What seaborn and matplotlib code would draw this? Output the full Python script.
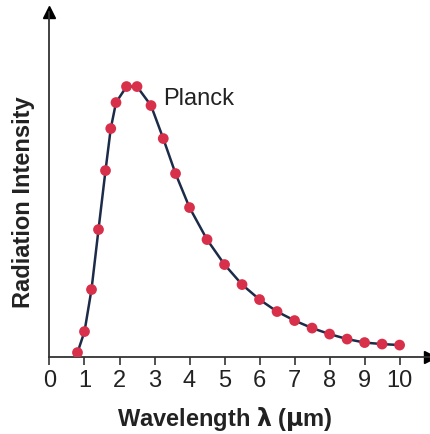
import matplotlib
matplotlib.use("Agg")
import matplotlib.pyplot as plt
import seaborn as sns
import pandas as pd

# wavelength (um) and relative radiation intensity
wavelength = [0.8, 1.0, 1.2, 1.4, 1.6, 1.75, 1.9, 2.2, 2.5, 2.9, 3.25, 3.6, 4.0,
              4.5, 5.0, 5.5, 6.0, 6.5, 7.0, 7.5, 8.0, 8.5, 9.0, 9.5, 10.0]
intensity = [4, 25, 67, 127, 186, 228, 254, 270, 270, 251, 218, 183, 149,
             117, 92, 72, 57, 45, 36, 28.5, 22.5, 17.5, 14, 12.5, 11.5]
xticks = list(range(0, 11))

df = pd.DataFrame({"Wavelength": wavelength, "Intensity": intensity})

sns.set_style("white")
plt.rcParams['font.family'] = ['Liberation Sans', 'DejaVu Sans']

fig = plt.figure(figsize=(4.31, 4.35), dpi=100)
ax = fig.add_axes([0.1148, 0.178, 0.883, 0.792])

sns.lineplot(x="Wavelength", y="Intensity", data=df, color="#1c2b48", linewidth=1.8, ax=ax)
sns.scatterplot(x="Wavelength", y="Intensity", data=df, color="#d8304a", s=60,
                edgecolor="none", zorder=3, ax=ax)

ax.set_xlim(0, 10.87)
ax.set_ylim(0, 344.5)
ax.set_xticks(xticks)
ax.set_xticklabels([str(t) for t in xticks], fontsize=17, color="#222222")
ax.set_yticks([])
ax.tick_params(axis="x", direction="out", length=6, width=1.2, color="#333333", pad=3, bottom=True)

for s in ["top", "right"]:
    ax.spines[s].set_visible(False)
for s in ["left", "bottom"]:
    ax.spines[s].set_color("#333333")
    ax.spines[s].set_linewidth(1.3)

# arrow heads on the axes
ax.plot(1, 0, ">", color="black", markersize=9, transform=ax.get_yaxis_transform(), clip_on=False)
ax.plot(0, 1, "^", color="black", markersize=9, transform=ax.get_xaxis_transform(), clip_on=False)

ax.text(3.24, 258.5, "Planck", fontsize=17, color="#222222", va="center", ha="left")

ax.set_xlabel("Wavelength $\\mathbf{\\lambda}$ ($\\mathbf{\\mu}$m)", fontsize=17, fontweight="bold",
              color="#222222")
ax.set_ylabel("Radiation Intensity", fontsize=17, fontweight="bold", color="#222222")
ax.xaxis.label.set_va("center")
ax.yaxis.label.set_va("center")
ax.xaxis.set_label_coords(0.462, -0.177)
ax.yaxis.set_label_coords(-0.067, 0.45)

plt.savefig("out.png", dpi=100)
plt.close()
